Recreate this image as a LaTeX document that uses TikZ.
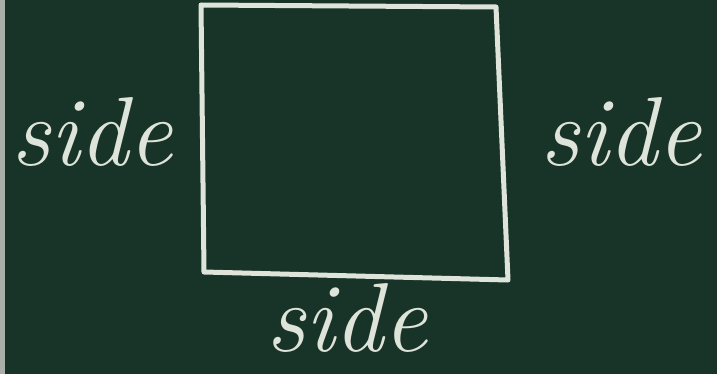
\documentclass[tikz,border=0pt]{standalone}
\definecolor{board}{RGB}{24,52,40}
\definecolor{chalk}{RGB}{222,228,218}
\definecolor{wall}{RGB}{170,175,170}
\begin{document}
\begin{tikzpicture}[x=1pt,y=-1pt,
  chalkline/.style={draw=chalk,line width=5pt,line join=round,line cap=round},
  lbl/.style={text=chalk,font=\fontsize{98}{106}\selectfont\itshape,inner sep=0pt}]
\fill[board] (0,0) rectangle (717,374);
\useasboundingbox (0,0) rectangle (717,374);
\fill[wall] (0,0) rectangle (5,374);
\coordinate (tl) at (201,5);
\coordinate (tr) at (496,7);
\coordinate (br) at (508,280);
\coordinate (bl) at (204,272);
\draw[chalkline] (tl) -- (tr) -- (br) -- (bl) -- cycle;
\node[lbl] (lside) at (92,132) {side};
\node[lbl] (rside) at (621,132) {side};
\node[lbl] (bside) at (347,318) {side};
\end{tikzpicture}
\end{document}
